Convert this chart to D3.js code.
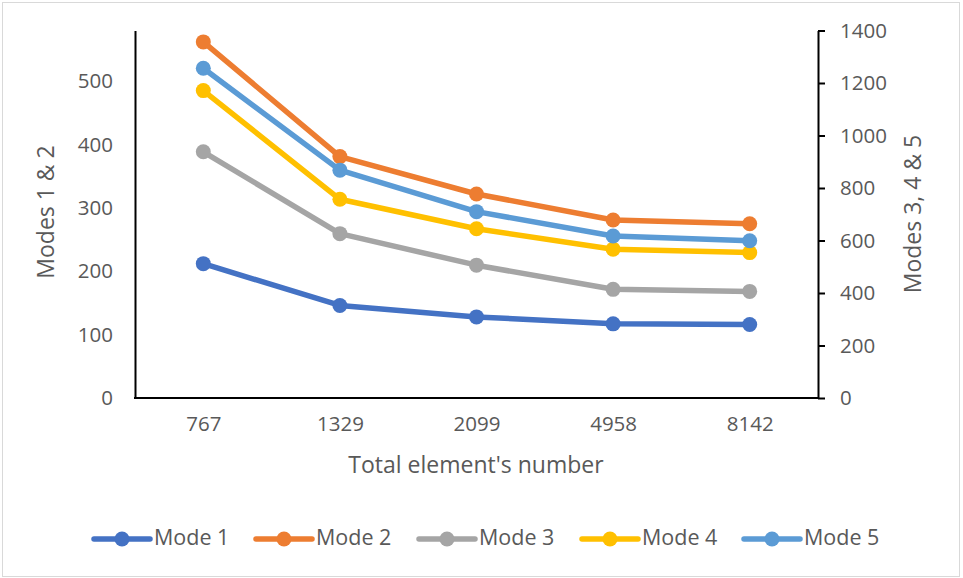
<!DOCTYPE html>
<html>
<head>
<meta charset="utf-8">
<script src="https://cdn.jsdelivr.net/npm/d3@7"></script>
<style>
  html, body { margin: 0; padding: 0; background: #fff; }
  svg text { font-family: "Open Sans", sans-serif; fill: #595959; }
</style>
</head>
<body>
<svg id="chart" width="963" height="578"></svg>
<script>
// Category labels (total element count of each mesh)
const categories = ["767", "1329", "2099", "4958", "8142"];

// Modes 1 & 2 use the left axis
const mode1 = [212, 146, 128, 117, 116];
const mode2 = [562, 381, 322, 281, 275];

// Modes 3, 4 & 5 use the right axis
const mode3 = [938, 626, 506, 414, 406];
const mode4 = [1171, 757, 645, 567, 554];
const mode5 = [1256, 868, 710, 617, 599];

const seriesNames = ["Mode 1", "Mode 2", "Mode 3", "Mode 4", "Mode 5"];
const seriesColors = ["#4472C4", "#ED7D31", "#A5A5A5", "#FFC000", "#5B9BD5"];

const leftTicks = [0, 100, 200, 300, 400, 500];
const rightTicks = [0, 200, 400, 600, 800, 1000, 1200, 1400];

const svg = d3.select("#chart");
const W = 963, H = 578;
const plot = { left: 135, right: 818, top: 30.5, bottom: 398 };

// outer chart border
svg.append("rect")
  .attr("x", 2.5).attr("y", 2.5)
  .attr("width", W - 6).attr("height", H - 4)
  .attr("fill", "#fff").attr("stroke", "#d9d9d9").attr("stroke-width", 1);

const x = d3.scalePoint().domain(categories).range([plot.left, plot.right]).padding(0.5);
const yLeft = d3.scaleLinear().domain([0, 580]).range([plot.bottom, plot.top]);
const yRight = d3.scaleLinear().domain([0, 1400]).range([plot.bottom, plot.top]);

const fs = 20.5;       // tick labels
const fsTitle = 23;    // axis titles
const fsLegend = 21.5; // legend entries
const fmt = d3.format("d");

// left axis: line only, labels without ticks
const gL = svg.append("g").attr("transform", `translate(${plot.left},0)`)
  .call(d3.axisLeft(yLeft).tickValues(leftTicks).tickFormat(fmt).tickSize(0).tickPadding(22).tickSizeOuter(0));
gL.select(".domain").attr("stroke", "#000").attr("stroke-width", 2);

// right axis with outward ticks
const gR = svg.append("g").attr("transform", `translate(${plot.right},0)`)
  .call(d3.axisRight(yRight).tickValues(rightTicks).tickFormat(fmt).tickSize(7).tickPadding(15).tickSizeOuter(0));
gR.select(".domain").attr("stroke", "#000").attr("stroke-width", 2);
gR.selectAll(".tick line").attr("stroke", "#000").attr("stroke-width", 2);

// bottom axis: line and category labels
const gB = svg.append("g").attr("transform", `translate(0,${plot.bottom})`)
  .call(d3.axisBottom(x).tickSize(0).tickPadding(18).tickSizeOuter(0));
gB.select(".domain").attr("stroke", "#000").attr("stroke-width", 2)
  .attr("d", `M${plot.left - 1},0H${plot.right + 1}`);

[gL, gR, gB].forEach(g => {
  g.attr("font-family", null).attr("font-size", null);
  g.selectAll("text").attr("font-size", fs).attr("fill", "#595959");
});

// axis titles
svg.append("text").attr("x", 476).attr("y", 467)
  .attr("text-anchor", "middle").attr("dominant-baseline", "middle")
  .attr("font-size", fsTitle).text("Total element's number");

svg.append("text")
  .attr("transform", `translate(48,212) rotate(-90)`)
  .attr("text-anchor", "middle").attr("dominant-baseline", "middle")
  .attr("font-size", fsTitle).text("Modes 1 & 2");

svg.append("text")
  .attr("transform", `translate(915,214) rotate(-90)`)
  .attr("text-anchor", "middle").attr("dominant-baseline", "middle")
  .attr("font-size", fsTitle).text("Modes 3, 4 & 5");

// series
const series = [
  { name: seriesNames[0], values: mode1, y: yLeft, color: seriesColors[0] },
  { name: seriesNames[1], values: mode2, y: yLeft, color: seriesColors[1] },
  { name: seriesNames[2], values: mode3, y: yRight, color: seriesColors[2] },
  { name: seriesNames[3], values: mode4, y: yRight, color: seriesColors[3] },
  { name: seriesNames[4], values: mode5, y: yRight, color: seriesColors[4] }
];

series.forEach(s => {
  const pts = s.values.map((v, i) => [x(categories[i]), s.y(v)]);
  svg.append("path")
    .attr("d", d3.line()(pts))
    .attr("fill", "none").attr("stroke", s.color)
    .attr("stroke-width", 5.5).attr("stroke-linejoin", "round").attr("stroke-linecap", "round");
  svg.append("g").selectAll("circle").data(pts).join("circle")
    .attr("cx", d => d[0]).attr("cy", d => d[1]).attr("r", 7.5)
    .attr("fill", s.color);
});

// legend
const legendX = [94, 256, 419, 582, 744];
const legendY = 539;
series.forEach((s, i) => {
  const g = svg.append("g").attr("transform", `translate(${legendX[i]},${legendY})`);
  g.append("line").attr("x1", 0).attr("x2", 56).attr("y1", 0).attr("y2", 0)
    .attr("stroke", s.color).attr("stroke-width", 5.5).attr("stroke-linecap", "round");
  g.append("circle").attr("cx", 28).attr("cy", 0).attr("r", 7.5).attr("fill", s.color);
  g.append("text").attr("x", 60).attr("y", 0).attr("dominant-baseline", "middle")
    .attr("font-size", fsLegend).text(s.name);
});
</script>
</body>
</html>
